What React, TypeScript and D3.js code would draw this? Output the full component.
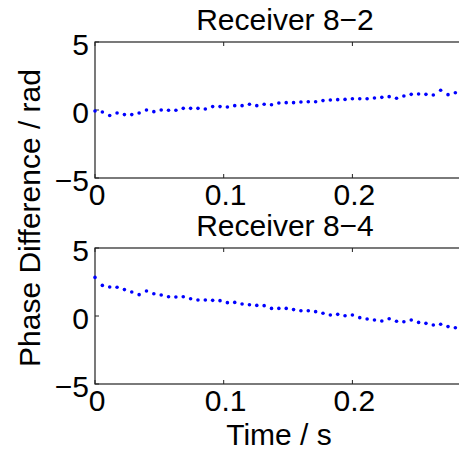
import React from "react";
import * as d3 from "d3";

const W = 459;
const H = 452;
const sampleStep = 1 / 175;
const xTicks = [0, 0.1, 0.2];
const yTicks = [-5, 0, 5];
const titles = ["Receiver 8\u22122", "Receiver 8\u22124"];

const phase82 = [
  -0.07, -0.15, -0.4, -0.22, -0.34, -0.34, -0.22, 0, -0.12, 0, -0.02, -0.02, 0.12, 0.12, 0.12, 0.07,
  0.25, 0.25, 0.22, 0.32, 0.32, 0.42, 0.32, 0.42, 0.39, 0.51, 0.54, 0.54, 0.59, 0.61, 0.61, 0.69,
  0.74, 0.76, 0.78, 0.83, 0.83, 0.83, 0.88, 0.93, 0.98, 0.86, 1.03, 1.15, 1.18, 1.15, 1.1, 1.45,
  1.13, 1.27, 1.3,
];
const phase84 = [
  2.84, 2.25, 2.13, 2.11, 1.94, 1.76, 1.57, 1.84, 1.64, 1.54, 1.42, 1.4, 1.42, 1.27, 1.18, 1.18,
  1.15, 1.13, 0.98, 1.0, 0.88, 0.83, 0.78, 0.76, 0.56, 0.56, 0.56, 0.47, 0.39, 0.39, 0.32, 0.2,
  0.07, 0.12, 0.02, 0.07, -0.12, -0.22, -0.29, -0.37, -0.2, -0.39, -0.42, -0.29, -0.47, -0.54,
  -0.66, -0.61, -0.78, -0.86, -0.9,
];
const series = [phase82, phase84];

const left = 95;
const right = 475;
const panels = [
  { top: 42, bottom: 178 },
  { top: 248, bottom: 384 },
];
const xMax = (right - left) / 1287;
const FONT = "Liberation Sans, Arial, Helvetica, sans-serif";
const FS = 30;

export default function App() {
  const x = d3.scaleLinear().domain([0, xMax]).range([left, right]);
  return (
    <svg
      width={W}
      height={H}
      style={{ position: "absolute", left: 0, top: 0, background: "#fff" }}
      fontFamily={FONT}
    >
      <rect width={W} height={H} fill="#fff" />
      {panels.map((p, pi) => {
        const y = d3.scaleLinear().domain([-5, 5]).range([p.bottom, p.top]);
        const data = series[pi];
        return (
          <g key={pi}>
            <text x={285} y={p.top - 12} fontSize={FS} textAnchor="middle" fill="#000">
              {titles[pi]}
            </text>
            <rect
              x={left}
              y={p.top}
              width={right - left}
              height={p.bottom - p.top}
              fill="none"
              stroke="#222"
              strokeWidth={1.2}
            />
            {xTicks.map((t) => (
              <g key={t}>
                <line x1={x(t)} x2={x(t)} y1={p.bottom} y2={p.bottom - 4} stroke="#222" />
                <line x1={x(t)} x2={x(t)} y1={p.top} y2={p.top + 4} stroke="#222" />
                <text x={x(t) + 2} y={p.bottom + 27} fontSize={FS} textAnchor="middle" fill="#000">
                  {t === 0 ? "0" : t.toFixed(1)}
                </text>
              </g>
            ))}
            {yTicks.map((t) => (
              <g key={t}>
                <line x1={left} x2={left + 4} y1={y(t)} y2={y(t)} stroke="#222" />
                <text x={left - 6} y={y(t) + 13} fontSize={FS} textAnchor="end" fill="#000">
                  {t < 0 ? "\u2212" + Math.abs(t) : String(t)}
                </text>
              </g>
            ))}
            {data.map((v, i) => (
              <circle key={i} cx={x(i * sampleStep)} cy={y(v)} r={1.8} fill="#0000ff" />
            ))}
          </g>
        );
      })}
      <text
        transform={`translate(40, 218) rotate(-90)`}
        fontSize={FS}
        textAnchor="middle"
        fill="#000"
      >
        Phase Difference / rad
      </text>
      <text x={279} y={445} fontSize={FS} textAnchor="middle" fill="#000">
        Time / s
      </text>
    </svg>
  );
}
